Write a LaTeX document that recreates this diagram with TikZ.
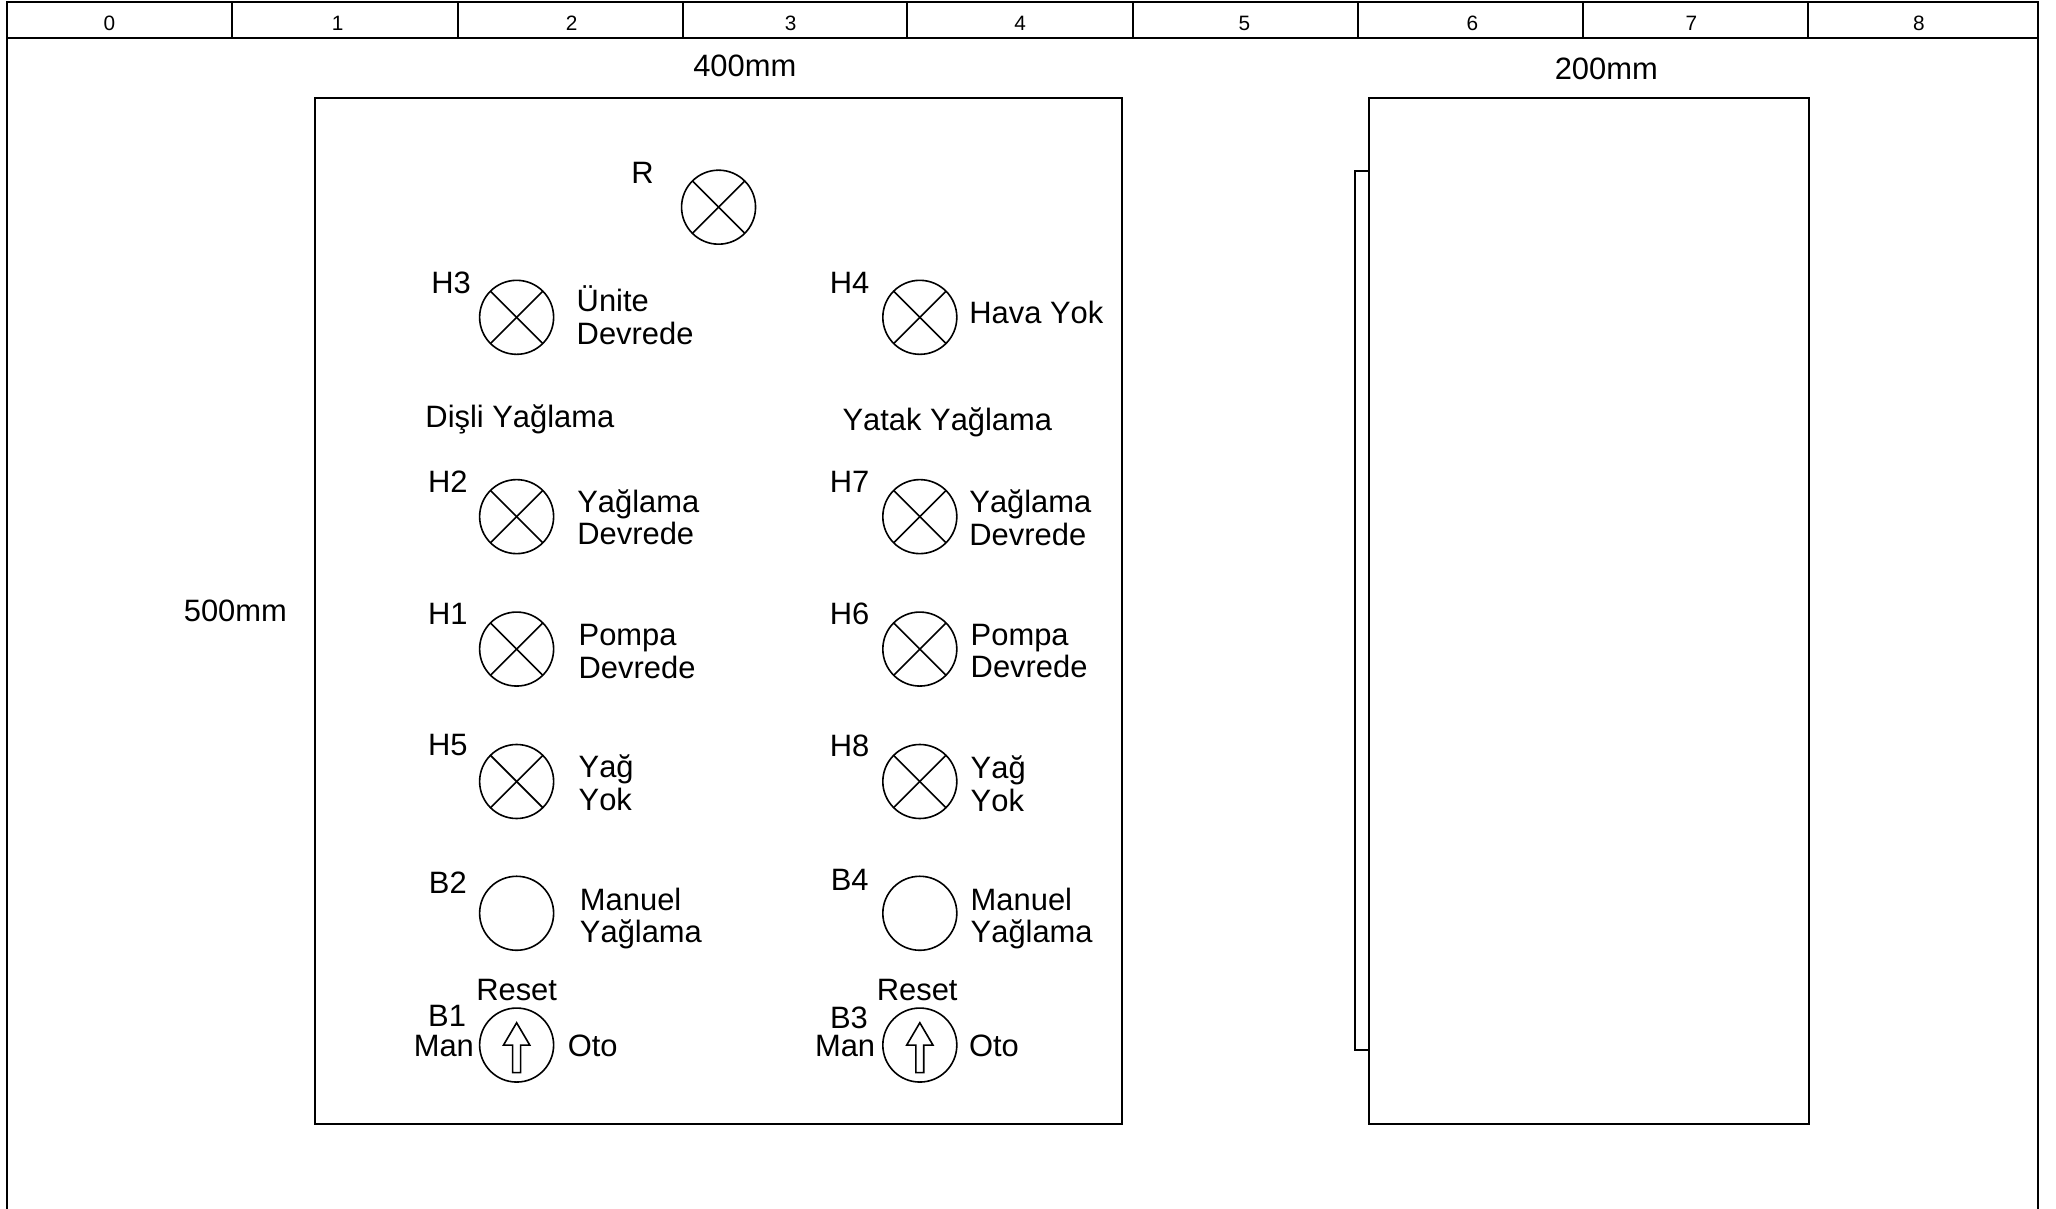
\documentclass[tikz,border=0pt]{standalone}
\usepackage{fontspec}
\setmainfont[Kerning=Off]{Liberation Sans}
\usetikzlibrary{calc}
\tikzset{
  ln/.style={line width=1pt,black},
  txt/.style={inner sep=0pt,font=\fontsize{15.45}{16.4}\selectfont},
  lab/.style={txt,anchor=west,align=left},
  dig/.style={inner sep=0pt,font=\fontsize{10.4}{11}\selectfont},
  knob/.style={circle,draw,line width=0.8pt,minimum size=37pt,inner sep=0pt},
  lamp/.style={knob,path picture={
    \draw[line width=0.8pt] (path picture bounding box.north west) -- (path picture bounding box.south east);
    \draw[line width=0.8pt] (path picture bounding box.north east) -- (path picture bounding box.south west);}},
}
\newcommand{\selarrow}[1]{\draw[line width=0.8pt] ($(#1)+(0,-17)$) -- ($(#1)+(10,0)$) -- ($(#1)+(3,0)$) -- ($(#1)+(3,21)$) -- ($(#1)+(-3,21)$) -- ($(#1)+(-3,0)$) -- ($(#1)+(-10,0)$) -- cycle;}
\begin{document}
\begin{tikzpicture}[x=0.6556pt,y=-0.6556pt]
\useasboundingbox (0,0) rectangle (1568,922);
% sheet frame
\draw[ln] (5.5,922) -- (5.5,1.5) -- (1554.5,1.5) -- (1554.5,922);
\draw[ln] (5.5,29) -- (1554.5,29);
\foreach \x in {177,349,520.5,692,864,1035.5,1207,1379}
  \draw[ln] (\x,1.5) -- (\x,29);
\foreach \t/\x in {0/83.5,1/257.5,2/436,3/603,4/778,5/949,6/1123,7/1290,8/1463.5}
  \node[dig] (d\t) at (\x,17.5) {\t};
% dimensions
\node[txt] (w400) at (568,50.5) {400mm};
\node[txt] (w200) at (1225,52.5) {200mm};
\node[txt] (h500) at (179.5,466) {500mm};
% panels
\draw[ln] (240,74.5) rectangle (855.5,857);
\draw[ln] (1044,74.5) rectangle (1379.5,857);
\draw[ln] (1044,130.5) -- (1033,130.5) -- (1033,801) -- (1044,801);
% lamps
\node[lamp] (R) at (548,158) {};
\node[lamp] (H3) at (394,242) {};
\node[lamp] (H4) at (701.5,242) {};
\node[lamp] (H2) at (394,394) {};
\node[lamp] (H7) at (701.5,394) {};
\node[lamp] (H1) at (394,495) {};
\node[lamp] (H6) at (701.5,495) {};
\node[lamp] (H5) at (394,596) {};
\node[lamp] (H8) at (701.5,596) {};
% buttons
\node[knob] (B2) at (394,696.5) {};
\node[knob] (B4) at (701.5,696.5) {};
\node[knob] (B1) at (394,797) {};
\node[knob] (B3) at (701.5,797) {};
\selarrow{B1}
\selarrow{B3}
% tags
\node[txt] (tR) at (490,131.5) {R};
\node[txt] (tH3) at (344,215.5) {H3};
\node[txt] (tH4) at (648,215.5) {H4};
\node[txt] (tH2) at (341.5,367.5) {H2};
\node[txt] (tH7) at (648,367.5) {H7};
\node[txt] (tH1) at (341.5,468.5) {H1};
\node[txt] (tH6) at (648,468.5) {H6};
\node[txt] (tH5) at (341.5,568.5) {H5};
\node[txt] (tH8) at (648,568.5) {H8};
\node[txt] (tB2) at (341.5,673) {B2};
\node[txt] (tB4) at (648,671) {B4};
\node[txt] (tB1) at (341,775) {B1};
\node[txt] (tB3) at (647.5,776) {B3};
% headings
\node[txt] (dy) at (396.5,320) {Dişli Yağlama};
\node[txt] (yy) at (722.5,322) {Yatak Yağlama};
% labels
\node[lab] (l1) at (439.5,240.5) {Ünite\\Devrede};
\node[lab] (l2) at (739,238) {Hava Yok};
\node[lab] (l3) at (440,394.5) {Yağlama\\Devrede};
\node[lab] (l4) at (739,395) {Yağlama\\Devrede};
\node[lab] (l5) at (441,497) {Pompa\\Devrede};
\node[lab] (l6) at (740,496.5) {Pompa\\Devrede};
\node[lab] (l7) at (441,597) {Yağ\\Yok};
\node[lab] (l8) at (740,598) {Yağ\\Yok};
\node[lab] (l9) at (442,700.5) {Manuel\\Yağlama};
\node[lab] (l10) at (740,700.5) {Manuel\\Yağlama};
\node[txt] (r1) at (394,755) {Reset};
\node[txt] (r2) at (699.5,755) {Reset};
\node[txt] (m1) at (338.5,797.5) {Man};
\node[txt] (m2) at (644.5,797.5) {Man};
\node[txt] (o1) at (452,797.5) {Oto};
\node[txt] (o2) at (758,797.5) {Oto};
\end{tikzpicture}
\end{document}
